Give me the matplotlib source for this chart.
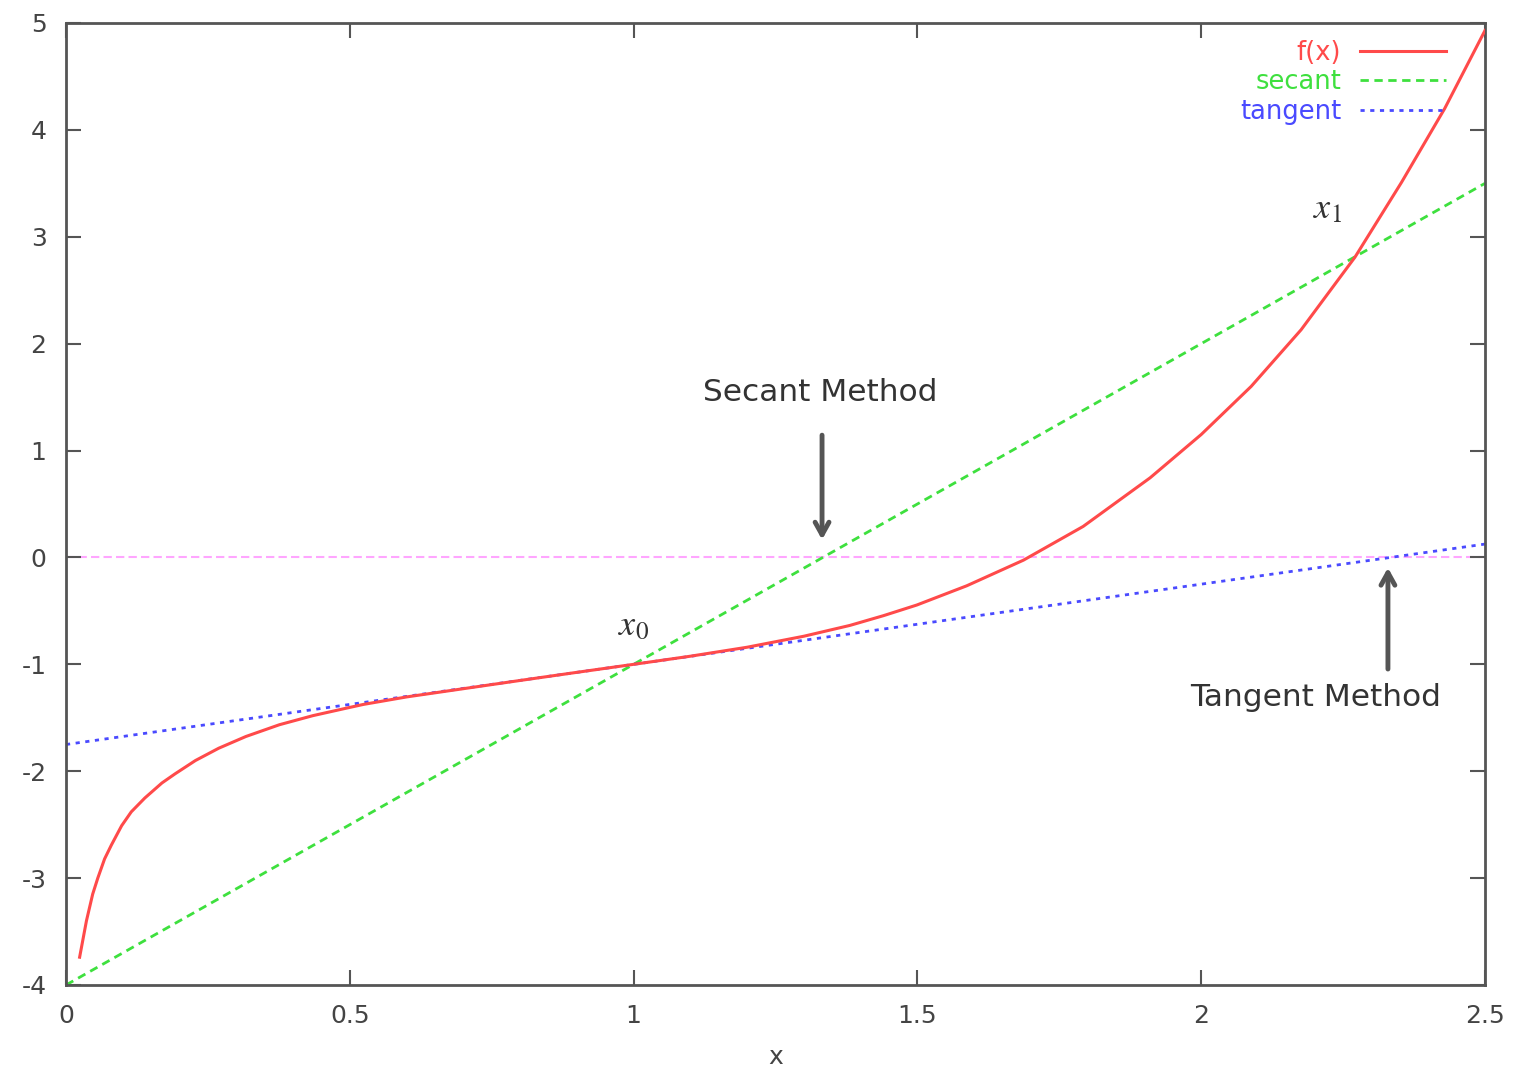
import matplotlib
matplotlib.use("Agg")
import matplotlib.pyplot as plt

# ---- data ----
fx_x = [0.024, 0.036, 0.047, 0.056, 0.068, 0.080, 0.098, 0.115, 0.139, 0.169,
        0.192, 0.228, 0.269, 0.317, 0.376, 0.435, 0.494, 0.524, 0.6, 0.7, 0.8,
        0.9, 1.0, 1.1, 1.2, 1.3, 1.381, 1.44, 1.499, 1.587, 1.687, 1.792, 1.91,
        2.0, 2.088, 2.176, 2.271, 2.353, 2.429, 2.5]
fx_y = [-3.74, -3.40, -3.15, -3.0, -2.82, -2.69, -2.51, -2.38, -2.25, -2.11,
        -2.025, -1.90, -1.785, -1.675, -1.565, -1.48, -1.41, -1.375, -1.305, -1.228, -1.151,
        -1.075, -1.0, -0.924, -0.84, -0.737, -0.636, -0.545, -0.445, -0.265, -0.025, 0.29, 0.745,
        1.15, 1.60, 2.13, 2.81, 3.51, 4.20, 4.93]
secant_x = [0.0, 2.5]
secant_y = [-4.0, 3.5]
tangent_x = [0.0, 2.5]
tangent_y = [-1.75, 0.125]
zero_x = [0.0, 2.5]
zero_y = [0.0, 0.0]
xticks = [0, 0.5, 1, 1.5, 2, 2.5]
xticklabels = ["0", "0.5", "1", "1.5", "2", "2.5"]
yticks = [-4, -3, -2, -1, 0, 1, 2, 3, 4, 5]
yticklabels = [str(v) for v in yticks]

plt.rcParams['font.family'] = ['DejaVu Sans']
fig = plt.figure(figsize=(15.29, 10.72), dpi=100)
ax = fig.add_axes([66/1529, 1-985/1072, (1485-66)/1529, (985-23)/1072])

ax.plot(zero_x, zero_y, color='#ffa6ff', lw=1.5, ls=(0, (4, 2)), zorder=1)
l1, = ax.plot(fx_x, fx_y, color='#ff4a4a', lw=2.2, label='f(x)', zorder=3)
l2, = ax.plot(secant_x, secant_y, color='#3ee03e', lw=2, ls=(0, (3, 2)), label='secant', zorder=2)
l3, = ax.plot(tangent_x, tangent_y, color='#4a4aff', lw=2, ls=(0, (1.5, 2)), label='tangent', zorder=2)

ax.set_xlim(0, 2.5)
ax.set_ylim(-4, 5)
ax.set_xticks(xticks)
ax.set_xticklabels(xticklabels)
ax.set_yticks(yticks)
ax.set_yticklabels(yticklabels)
ax.tick_params(direction='in', length=11, width=1.5, color='#555555', labelsize=18,
               labelcolor='#444444', top=True, right=True, pad=14)
for s in ax.spines.values():
    s.set_color('#555555')
    s.set_linewidth(2)
ax.set_xlabel('x', fontsize=18, color='#444444', labelpad=12)

leg = ax.legend(handles=[l1, l2, l3], loc='upper right', bbox_to_anchor=(0.989, 1.006),
                frameon=False, markerfirst=False, labelcolor='linecolor', fontsize=18.5,
                handlelength=3.35, handletextpad=0.74, labelspacing=0.12)

# annotations
ax.annotate('', xy=(1.332, 0.14), xytext=(1.332, 1.17),
            arrowprops=dict(arrowstyle='->,head_length=0.9,head_width=0.5', lw=3.5, color='#555555'))
ax.text(1.329, 1.54, 'Secant Method', ha='center', va='center', fontsize=22.5, color='#333333')
ax.annotate('', xy=(2.329, -0.07), xytext=(2.329, -1.07),
            arrowprops=dict(arrowstyle='->,head_length=0.9,head_width=0.5', lw=3.5, color='#555555'))
ax.text(2.202, -1.31, 'Tangent Method', ha='center', va='center', fontsize=22.5, color='#333333')

ax.text(0.999, -0.63, r'$x_0$', fontsize=26, color='#333333', math_fontfamily='stix',
        ha='center', va='center')
ax.text(2.223, 3.27, r'$x_1$', fontsize=26, color='#333333', math_fontfamily='stix',
        ha='center', va='center')

fig.savefig('out.png', dpi=100)
